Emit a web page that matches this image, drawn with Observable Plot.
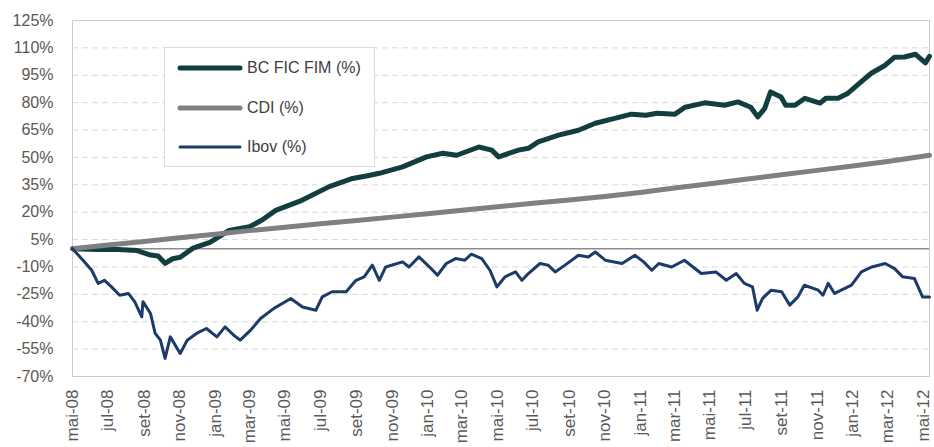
<!DOCTYPE html>
<html>
<head>
<meta charset="utf-8">
<script src="https://cdn.jsdelivr.net/npm/d3@7"></script>
<script src="https://cdn.jsdelivr.net/npm/@observablehq/plot@0.6"></script>
<style>
  html, body { margin: 0; padding: 0; background: #fff; }
  #wrap { position: relative; width: 934px; height: 447px; overflow: hidden; font-family: "Liberation Sans", Arial, sans-serif; }
  #legend { position: absolute; left: 164px; top: 47px; width: 209px; height: 118px; border: 1px solid #d9d9d9; background: #fff; }
  .item { position: absolute; left: 0; height: 20px; display: flex; align-items: center; }
  .item svg { margin-left: 12px; }
  .item span { margin-left: 4px; font-size: 16px; color: #404040; white-space: nowrap; }
</style>
</head>
<body>
<div id="wrap"></div>
<script>
// ---- data ----
const monthAbbr = ["jan","fev","mar","abr","mai","jun","jul","ago","set","out","nov","dez"];
const yTicks = [-70, -55, -40, -25, -10, 5, 20, 35, 50, 65, 80, 95, 110, 125];
const seriesNames = ["BC FIC FIM (%)", "CDI (%)", "Ibov (%)"];

const bcDates = ["2008-05-01","2008-06-14","2008-07-10","2008-08-20","2008-09-12","2008-09-25","2008-10-07","2008-10-20","2008-11-02","2008-11-24","2008-12-23","2009-01-10","2009-01-25","2009-03-01","2009-03-22","2009-04-15","2009-05-30","2009-07-16","2009-08-25","2009-09-20","2009-10-10","2009-11-19","2009-12-30","2010-01-27","2010-02-20","2010-03-30","2010-04-21","2010-05-03","2010-06-06","2010-06-23","2010-07-10","2010-08-14","2010-09-17","2010-10-16","2010-11-20","2010-12-17","2011-01-11","2011-01-30","2011-03-02","2011-03-19","2011-04-22","2011-05-26","2011-06-18","2011-07-10","2011-07-22","2011-08-03","2011-08-13","2011-08-31","2011-09-08","2011-09-24","2011-10-11","2011-11-06","2011-11-16","2011-12-07","2011-12-24","2012-01-15","2012-02-02","2012-02-26","2012-03-13","2012-03-30","2012-04-18","2012-05-05","2012-05-12"];
const bcValues = [0,-0.5,-0.3,-1,-3.5,-4,-8,-5.5,-4.7,0.3,3.5,7,10,12,15.6,21,26.5,34,38.5,40,41.3,44.8,50.3,52.3,51.2,55.7,54,50.3,54,55,58.5,62.2,64.9,68.7,71.5,73.7,73.1,74.2,73.7,77.5,79.9,78.6,80.4,77.5,72.2,76.9,85.9,83.1,78.6,78.6,82.4,79.7,82.4,82.4,85.2,91.3,96.1,100.5,104.9,105,106.5,101.8,105.4];

const cdiDates = ["2008-05-01","2008-07-01","2008-09-01","2008-11-01","2009-01-01","2009-03-01","2009-05-01","2009-07-01","2009-09-01","2009-11-01","2010-01-01","2010-03-01","2010-05-01","2010-07-01","2010-09-01","2010-11-01","2011-01-01","2011-03-01","2011-05-01","2011-07-01","2011-09-01","2011-11-01","2012-01-01","2012-03-01","2012-05-01","2012-05-12"];
const cdiValues = [0,2.0,4.0,6.0,7.9,9.9,11.8,13.7,15.5,17.3,19.2,21.1,23.0,24.9,26.7,28.6,30.8,33.2,35.6,38.0,40.5,42.9,45.3,47.8,50.6,51.2];

const ibovDates = ["2008-05-01","2008-05-19","2008-06-03","2008-06-14","2008-06-25","2008-07-07","2008-07-21","2008-08-05","2008-08-16","2008-08-28","2008-08-30","2008-09-12","2008-09-20","2008-09-29","2008-10-07","2008-10-16","2008-11-02","2008-11-14","2008-11-30","2008-12-17","2009-01-04","2009-01-18","2009-02-02","2009-02-13","2009-03-03","2009-03-20","2009-04-12","2009-05-11","2009-05-31","2009-06-23","2009-07-04","2009-07-21","2009-08-14","2009-08-31","2009-09-14","2009-09-28","2009-10-10","2009-10-21","2009-11-19","2009-11-30","2009-12-17","2010-01-07","2010-01-18","2010-02-02","2010-02-18","2010-03-06","2010-03-17","2010-04-04","2010-04-18","2010-04-30","2010-05-14","2010-06-01","2010-06-12","2010-06-23","2010-07-13","2010-07-27","2010-08-08","2010-08-25","2010-09-17","2010-10-04","2010-10-16","2010-11-02","2010-12-01","2010-12-23","2011-01-07","2011-01-21","2011-02-02","2011-02-24","2011-03-18","2011-04-16","2011-05-11","2011-05-29","2011-06-15","2011-06-29","2011-07-13","2011-07-21","2011-07-30","2011-08-14","2011-09-01","2011-09-15","2011-09-29","2011-10-10","2011-11-03","2011-11-11","2011-11-20","2011-12-01","2011-12-30","2012-01-16","2012-02-03","2012-02-26","2012-03-13","2012-03-27","2012-04-16","2012-04-30","2012-05-12"];
const ibovValues = [0,-6.3,-11.8,-19,-17.3,-20.9,-25.5,-24.5,-29.1,-37.3,-29,-35.5,-46.4,-50.1,-60.1,-48.3,-57.4,-50.1,-46.4,-43.7,-48.3,-42.8,-47.4,-50.1,-44.6,-38.2,-32.7,-27.3,-31.9,-33.7,-26.4,-23.6,-23.6,-17.3,-15.4,-9,-17.3,-10,-7.2,-10,-4.5,-10.9,-14.5,-8.1,-5.4,-6.3,-3,-5.4,-11.8,-20.9,-15.4,-12.7,-17.3,-13.6,-8.1,-9,-12.7,-9,-3.6,-4.5,-1.8,-6.3,-8.1,-3.6,-7.2,-11.8,-8.1,-10,-6.3,-13.6,-12.7,-17.3,-13.6,-19,-20.9,-33.7,-27.3,-22.7,-23.6,-30.9,-26.4,-20,-22.7,-25.5,-19,-24.5,-20,-12.7,-10,-8.1,-10.9,-15.4,-16.3,-26.4,-26.4];

// ---- tables ----
const toRows = (dates, values) => dates.map((d, i) => ({date: new Date(d + "T00:00:00Z"), value: values[i]}));
const bc = toRows(bcDates, bcValues);
const cdi = toRows(cdiDates, cdiValues);
const ibov = toRows(ibovDates, ibovValues);

const colors = ["#123e3f", "#808080", "#1b3b69"];
const widths = [5, 5, 3];

const fmtMonth = d => `${monthAbbr[d.getUTCMonth()]}-${String(d.getUTCFullYear()).slice(2)}`;

const chart = Plot.plot({
  width: 934,
  height: 447,
  marginLeft: 72,
  marginRight: 5,
  marginTop: 20,
  marginBottom: 71,
  style: {fontFamily: "'Liberation Sans', Arial, sans-serif", background: "white", overflow: "visible"},
  x: {type: "utc", label: null, domain: [new Date("2008-05-01T00:00:00Z"), new Date("2012-05-12T00:00:00Z")]},
  y: {label: null, domain: [-70, 125]},
  marks: [
    Plot.ruleY(yTicks.filter(t => t > -70 && t < 125), {stroke: "#d9d9d9", strokeDasharray: "6,4", strokeWidth: 1}),
    Plot.frame({stroke: "#cccccc"}),
    Plot.ruleY([0], {stroke: "#8c8c8c", strokeWidth: 1.5}),
    Plot.lineY(bc, {x: "date", y: "value", stroke: colors[0], strokeWidth: widths[0], strokeLinejoin: "round", strokeLinecap: "round"}),
    Plot.lineY(cdi, {x: "date", y: "value", stroke: colors[1], strokeWidth: widths[1], strokeLinejoin: "round"}),
    Plot.lineY(ibov, {x: "date", y: "value", stroke: colors[2], strokeWidth: widths[2], strokeLinejoin: "round"}),
    Plot.axisY({ticks: yTicks, tickFormat: d => `${d}%`, tickSize: 0, tickPadding: 19, fontSize: 16, fill: "#595959", label: null}),
    Plot.axisX({ticks: d3.utcMonth.every(2), tickFormat: fmtMonth, tickRotate: -90, tickSize: 0, tickPadding: 13, fontSize: 17, fill: "#595959", label: null})
  ]
});

const wrap = document.getElementById("wrap");
wrap.appendChild(chart);

// legend
const legend = document.createElement("div");
legend.id = "legend";
const tops = [10, 50, 89];
seriesNames.forEach((name, i) => {
  const item = document.createElement("div");
  item.className = "item";
  item.style.top = tops[i] + "px";
  item.innerHTML = `<svg width="66" height="20"><line x1="3" y1="10" x2="63" y2="10" stroke="${colors[i]}" stroke-width="${widths[i]}" stroke-linecap="round"/></svg><span>${name}</span>`;
  legend.appendChild(item);
});
wrap.appendChild(legend);
</script>
</body>
</html>
